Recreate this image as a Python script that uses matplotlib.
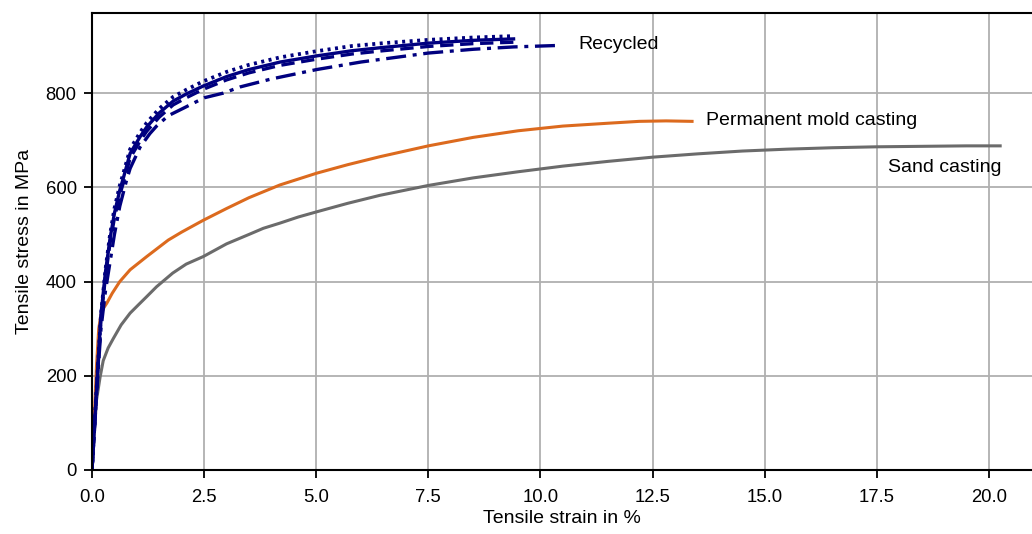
import matplotlib
matplotlib.use("Agg")
import matplotlib.pyplot as plt

plt.rcParams['font.family'] = ['Liberation Sans', 'DejaVu Sans']

# Sand casting
sand_strain = [0, 0.05, 0.1, 0.18, 0.25, 0.36, 0.475, 0.65, 0.85, 1.05, 1.22, 1.44, 1.8, 2.1,
               2.48, 3.0, 3.5, 3.82, 4.19, 4.6, 5.01, 5.7, 6.42, 7.5, 8.5, 9.5, 10.5, 11.5,
               12.5, 13.5, 14.5, 15.5, 16.5, 17.5, 18.5, 19.5, 20.25]
sand_stress = [0, 75, 148, 197, 232, 259, 279, 308, 333, 352, 368, 389, 418, 437,
               453, 480, 500, 513, 524, 537, 548, 566, 583, 604, 620, 633, 645, 655,
               664, 671, 677, 681, 684, 686, 687, 688, 688]

# Permanent mold casting
perm_strain = [0, 0.05, 0.1, 0.15, 0.2, 0.26, 0.33, 0.45, 0.62, 0.85, 1.22, 1.7, 2.0, 2.48,
               3.0, 3.5, 4.19, 5.01, 5.7, 6.42, 7.5, 8.5, 9.5, 10.5, 11.5, 12.2, 12.8, 13.38]
perm_stress = [0, 110, 220, 300, 330, 344, 354, 375, 400, 425, 453, 488, 505, 530,
               555, 578, 605, 630, 648, 665, 688, 706, 720, 730, 736, 740, 741, 740]

# Recycled (four specimens)
rec_strain = [0, 0.1, 0.2, 0.3, 0.4, 0.5, 0.62, 0.7, 0.85, 1.07, 1.22, 1.5, 1.81, 2.1,
              2.48, 3.0, 3.5, 4.2, 5.01, 5.8, 6.5, 7.5, 8.5, 9.4]
rec1_stress = [0, 170, 330, 420, 490, 545, 594, 620, 672, 707, 728, 758, 783, 798,
               815, 835, 850, 866, 879, 890, 897, 906, 912, 915]
rec2_stress = [0, 170, 330, 425, 498, 555, 604, 630, 681, 716, 737, 767, 792, 807,
               825, 845, 860, 876, 889, 900, 906, 913, 918, 921]
rec3_stress = [0, 165, 320, 410, 480, 535, 584, 610, 662, 698, 719, 749, 775, 790,
               808, 828, 843, 859, 872, 883, 890, 899, 905, 908]
rec4_strain = [0, 0.1, 0.2, 0.3, 0.4, 0.5, 0.62, 0.77, 0.85, 1.07, 1.29, 1.44, 1.7, 2.04,
               2.5, 2.93, 3.3, 4.0, 5.01, 6.0, 7.5, 8.5, 9.4, 10.36]
rec4_stress = [0, 160, 300, 380, 440, 500, 560, 615, 640, 685, 714, 730, 752, 768,
               790, 800, 813, 830, 850, 866, 885, 893, 898, 901]

x_ticks = [0.0, 2.5, 5.0, 7.5, 10.0, 12.5, 15.0, 17.5, 20.0]
y_ticks = [0, 200, 400, 600, 800]

NAVY = '#00007f'
ORANGE = '#dc6a1e'
GRAY = '#6b6b6b'

fig = plt.figure(figsize=(10.32, 5.34), dpi=100)
ax = fig.add_axes([92/1032, 64/534, 1 - 92/1032, 457/534])

ax.plot(sand_strain, sand_stress, color=GRAY, lw=2.2, solid_joinstyle='round')
ax.plot(perm_strain, perm_stress, color=ORANGE, lw=2.2, solid_joinstyle='round')
ax.plot(rec_strain, rec1_stress, color=NAVY, lw=2.4, ls='-', solid_joinstyle='round')
ax.plot(rec_strain, rec2_stress, color=NAVY, lw=2.7, ls=(0, (0.8, 1.2)))
ax.plot(rec_strain, rec3_stress, color=NAVY, lw=2.4, ls=(0, (4, 2)))
ax.plot(rec4_strain, rec4_stress, color=NAVY, lw=2.4, ls=(0, (6, 2, 1.2, 2)))

ax.text(10.84, 904, 'Recycled', fontsize=14, va='center', ha='left')
ax.text(13.69, 742, 'Permanent mold casting', fontsize=14, va='center', ha='left')
ax.text(17.75, 643, 'Sand casting', fontsize=14, va='center', ha='left')

ax.set_xlim(0, 20.96)
ax.set_ylim(0, 970)
ax.set_xticks(x_ticks)
ax.set_xticklabels([f'{v:.1f}' for v in x_ticks])
ax.set_yticks(y_ticks)
ax.grid(True, color='#b0b0b0', lw=1.3)
ax.set_axisbelow(True)
ax.tick_params(labelsize=13.3, length=6, width=1.3)
ax.tick_params(axis='x', pad=7.5)
ax.tick_params(axis='y', pad=5)
ax.set_xlabel('Tensile strain in %', fontsize=14, labelpad=3)
ax.set_ylabel('Tensile stress in MPa', fontsize=14, labelpad=9)
ax.spines['right'].set_visible(False)
for s in ['left', 'bottom', 'top']:
    ax.spines[s].set_linewidth(1.5)

fig.savefig('out.png', dpi=100)
